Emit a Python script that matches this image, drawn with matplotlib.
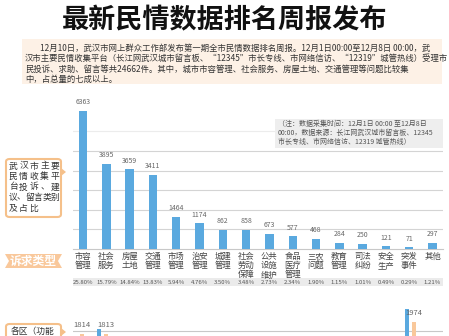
import matplotlib
matplotlib.use("Agg")
import matplotlib.pyplot as plt
import matplotlib.transforms as mtransforms
from matplotlib.patches import Rectangle, Polygon, FancyBboxPatch

plt.rcParams['font.family'] = ['Noto Sans CJK SC', 'DejaVu Sans']

# 诉求类型数据
categories = ["市容\n管理", "社会\n服务", "房屋\n土地", "交通\n管理", "市场\n管理", "治安\n管理",
              "城建\n管理", "社会\n劳动\n保障", "公共\n设施\n维护", "食品\n医疗\n管理", "三农\n问题",
              "教育\n管理", "司法\n纠纷", "安全\n生产", "突发\n事件", "其他"]
counts = [6363, 3895, 3659, 3411, 1464, 1174, 862, 858, 673, 577, 468, 284, 250, 121, 71, 297]
shares = ["25.80%", "15.79%", "14.84%", "13.83%", "5.94%", "4.76%", "3.50%", "3.48%",
          "2.73%", "2.34%", "1.90%", "1.15%", "1.01%", "0.49%", "0.29%", "1.21%"]

# 下方各区图（只露出顶部）
district_blue = [1650, 1880, 1500, 1400, 1300, 1250, 1200, 1100, 1000, 950, 900, 800, 700, 600, 2147]
district_orange = [1814, 1813, 1450, 1350, 1280, 1200, 1150, 1050, 980, 900, 850, 750, 650, 550, 1974]

W, H = 449, 336
BLUE = "#5aa9df"
ORANGE = "#f9c89b"


def fy(y):
    return 1 - y / H


fig = plt.figure(figsize=(W / 100, H / 100), dpi=100)

# 标题
fig.text(0.5, fy(20), "最新民情数据排名周报发布", ha="center", va="center",
         fontsize=19.5, fontweight="bold", color="#111")

# 导语框
fig.add_artist(Rectangle((22 / W, fy(84)), 420 / W, 45 / H, transform=fig.transFigure,
                         facecolor="#fdf1e6", edgecolor="none"))
intro = [
    "12月10日，武汉市网上群众工作部发布第一期全市民情数据排名周报。12月1日00:00至12月8日 00:00，武",
    "汉市主要民情收集平台（长江网武汉城市留言板、“12345”市长专线、市网络信访、“12319”城管热线）受理市",
    "民投诉、求助、留言等共24662件。其中，城市市容管理、社会服务、房屋土地、交通管理等问题比较集",
    "中，占总量的七成以上。",
]
for k, line in enumerate(intro):
    x0 = 40 if k == 0 else 25
    fig.text(x0 / W, fy(48 + k * 10.5), line, ha="left", va="center", fontsize=6.0, color="#333")

# 主图
ax = fig.add_axes([73 / W, fy(249), 370 / W, 148 / H])
x = list(range(len(counts)))
ax.bar(x, counts, width=0.36, color=BLUE, zorder=3)
for i, v in enumerate(counts):
    ax.annotate(str(v), (i, v), xytext=(0, 3.5), textcoords="offset points",
                ha="center", va="bottom", fontsize=5, color="#666")
ax.set_xlim(-0.43, 15.45)
ax.set_ylim(0, 6800)
ax.set_yticks([900, 1800, 2700, 3600, 4500, 5400])
ax.yaxis.grid(True, color="#d4d4d4", linewidth=0.8, zorder=0)
ax.get_ygridlines()[-1].set_color("#ececec")
ax.tick_params(axis="y", left=False, labelleft=False)
ax.set_xticks(x, categories)
ax.tick_params(axis="x", length=0, pad=2, labelsize=6, labelcolor="#444")
for t in ax.get_xticklabels():
    t.set_linespacing(1.05)
for s in ["top", "left", "right"]:
    ax.spines[s].set_visible(False)
ax.spines["bottom"].set_color("#c8c8c8")
ax.patch.set_alpha(0)

# 占比行
trans = mtransforms.blended_transform_factory(ax.transData, ax.transAxes)
ax.add_patch(Rectangle((0, -37 / 148), 1, 8 / 148, transform=ax.transAxes,
                       facecolor="#ebebeb", edgecolor="none", clip_on=False))
for i, s in enumerate(shares):
    ax.text(i, -33 / 148, s, transform=trans, ha="center", va="center", fontsize=4.3, color="#555")

# 注释框
fig.add_artist(Rectangle((275 / W, fy(148)), 168 / W, 29 / H, transform=fig.transFigure,
                         facecolor="#eeeeee", edgecolor="none"))
note = ["（注：数据采集时间：12月1日 00:00 至12月8日",
        "00:00，数据来源：长江网武汉城市留言板、12345",
        "市长专线、市网络信访、12319 城管热线）"]
for k, line in enumerate(note):
    fig.text(278 / W, fy(124 + k * 9), line, ha="left", va="center", fontsize=5, color="#555")

# 左侧说明框
fig.add_artist(FancyBboxPatch((6 / W, fy(217)), 55 / W, 58 / H, transform=fig.transFigure,
                              boxstyle="round,pad=0,rounding_size=0.008",
                              facecolor="white", edgecolor="#f5c08a", linewidth=1.5))
fig.add_artist(Polygon([(61 / W, fy(168)), (66 / W, fy(172)), (61 / W, fy(176))],
                       closed=True, transform=fig.transFigure, facecolor="#f5c08a", edgecolor="none"))
side = ["武汉市主要", "民情收集平", "台投诉、建", "议、留言类别", "及占比"]
for k, line in enumerate(side):
    step = 42 / 4 if len(line) <= 5 else 42 / 5
    for j, ch in enumerate(line):
        fig.text((13 + j * step) / W, fy(166 + k * 10.5), ch, ha="center", va="center",
                 fontsize=6.3, color="#333")

# 诉求类型 标签
fig.add_artist(Polygon([(5 / W, fy(254)), (62 / W, fy(254)), (58 / W, fy(261)), (62 / W, fy(268)),
                        (5 / W, fy(268)), (9 / W, fy(261))], closed=True,
                       transform=fig.transFigure, facecolor=ORANGE, edgecolor="none"))
fig.text(33.5 / W, fy(261), "诉求类型", ha="center", va="center", fontsize=8.5,
         fontweight="bold", color="white")

# 下方各区图
ax2 = fig.add_axes([73 / W, 0, 370 / W, 36 / H])
gx = list(range(len(district_blue)))
ax2.bar([g - 0.15 for g in gx], district_blue, width=0.17, color=BLUE, zorder=3)
ax2.bar([g + 0.15 for g in gx], district_orange, width=0.17, color=ORANGE, zorder=3)
for g, v in enumerate(district_orange):
    ax2.annotate(str(v), (g + 0.15, v), xytext=(0, 3.5), textcoords="offset points",
                 ha="center", va="bottom", fontsize=5.5, color="#666", annotation_clip=True,
                 clip_on=True)
ax2.set_xlim(-0.23, 15.37)
ax2.set_ylim(1787, 2267)
ax2.set_yticks([1850])
ax2.yaxis.grid(True, color="#c8c8c8", linewidth=0.8, zorder=0)
ax2.tick_params(left=False, labelleft=False, bottom=False, labelbottom=False)
for s in ax2.spines.values():
    s.set_visible(False)
ax2.patch.set_alpha(0)

fig.add_artist(FancyBboxPatch((6 / W, fy(345)), 55 / W, 21 / H, transform=fig.transFigure,
                              boxstyle="round,pad=0,rounding_size=0.008",
                              facecolor="white", edgecolor="#f5c08a", linewidth=1.5))
fig.add_artist(Polygon([(61 / W, fy(328)), (66 / W, fy(332)), (61 / W, fy(336))],
                       closed=True, transform=fig.transFigure, facecolor="#f5c08a", edgecolor="none"))
fig.text(11 / W, fy(331), "各区（功能", ha="left", va="center", fontsize=6.3, color="#333")

fig.savefig("out.png", dpi=100, facecolor="white")
